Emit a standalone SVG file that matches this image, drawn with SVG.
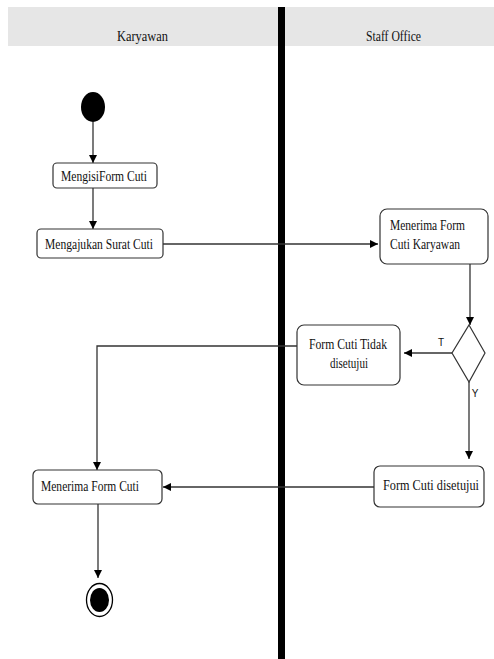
<svg xmlns="http://www.w3.org/2000/svg" width="494" height="659" viewBox="0 0 494 659">
  <style>
    .lane { fill: #e6e6e6; }
    .lbl { font-family: "Liberation Serif", "Times New Roman", serif; font-size: 14px; fill: #111; }
    .act { fill: #fff; stroke: #333; stroke-width: 1.2; }
    .flow { fill: none; stroke: #333; stroke-width: 1.3; }
    .guard { font-family: "Liberation Sans", Arial, sans-serif; font-size: 10px; fill: #111; }
  </style>
  <defs>
    <marker id="arrow" viewBox="0 0 10 10" refX="10" refY="5" markerWidth="8" markerHeight="8" markerUnits="userSpaceOnUse" orient="auto">
      <path d="M0,0 L10,5 L0,10 Z" fill="#000"/>
    </marker>
  </defs>

  <rect width="494" height="659" fill="#fff"/>

  <!-- swimlane headers -->
  <g id="lanes">
    <rect class="lane" x="8" y="7" width="270" height="39"/>
    <rect class="lane" x="285" y="7" width="209" height="39"/>
    <text class="lbl" x="142.5" y="41" text-anchor="middle" textLength="51" lengthAdjust="spacingAndGlyphs">Karyawan</text>
    <text class="lbl" x="393.5" y="41" text-anchor="middle" textLength="55" lengthAdjust="spacingAndGlyphs">Staff Office</text>
    <rect x="278" y="7" width="7" height="652" fill="#000"/>
  </g>

  <!-- connectors -->
  <g id="connectors">
    <path class="flow" d="M93,122 L93,163" marker-end="url(#arrow)"/>
    <path class="flow" d="M93,188 L93,229" marker-end="url(#arrow)"/>
    <path class="flow" d="M163,244 L378,244" marker-end="url(#arrow)"/>
    <path class="flow" d="M470,264 L470,325" marker-end="url(#arrow)"/>
    <path class="flow" d="M452,353 L404,353" marker-end="url(#arrow)"/>
    <path class="flow" d="M297,346 L97,346 L97,470" marker-end="url(#arrow)"/>
    <path class="flow" d="M469,382 L469,459" marker-end="url(#arrow)"/>
    <path class="flow" d="M374,487 L163,487" marker-end="url(#arrow)"/>
    <path class="flow" d="M98,504 L98,578" marker-end="url(#arrow)"/>
    <text class="guard" x="441" y="346" text-anchor="middle">T</text>
    <text class="guard" x="475" y="397" text-anchor="middle">Y</text>
  </g>

  <g id="start">
    <ellipse cx="93" cy="107" rx="12" ry="15" fill="#000"/>
  </g>

  <g id="isi-form">
    <rect class="act" x="53" y="163" width="104" height="25" rx="4"/>
    <text class="lbl" x="104" y="181" text-anchor="middle" textLength="86" lengthAdjust="spacingAndGlyphs">MengisiForm Cuti</text>
  </g>

  <g id="ajukan-surat">
    <rect class="act" x="37" y="229" width="126" height="29" rx="4"/>
    <text class="lbl" x="99" y="249" text-anchor="middle" textLength="108" lengthAdjust="spacingAndGlyphs">Mengajukan Surat Cuti</text>
  </g>

  <g id="terima-form-karyawan">
    <rect class="act" x="380" y="209" width="108" height="55" rx="7"/>
    <text class="lbl" x="390" y="230" textLength="75" lengthAdjust="spacingAndGlyphs">Menerima Form</text>
    <text class="lbl" x="390" y="249" textLength="70" lengthAdjust="spacingAndGlyphs">Cuti Karyawan</text>
  </g>

  <g id="keputusan">
    <path d="M469,325 L485,353 L469,382 L452,353 Z" fill="#fff" stroke="#333" stroke-width="1.2"/>
  </g>

  <g id="tidak-disetujui">
    <rect class="act" x="297" y="325" width="103" height="60" rx="7"/>
    <text class="lbl" x="348" y="349" text-anchor="middle" textLength="78" lengthAdjust="spacingAndGlyphs">Form Cuti Tidak</text>
    <text class="lbl" x="349" y="368" text-anchor="middle" textLength="38" lengthAdjust="spacingAndGlyphs">disetujui</text>
  </g>

  <g id="disetujui">
    <rect class="act" x="374" y="466" width="110" height="41" rx="6"/>
    <text class="lbl" x="431" y="490" text-anchor="middle" textLength="96" lengthAdjust="spacingAndGlyphs">Form Cuti disetujui</text>
  </g>

  <g id="terima-form-cuti">
    <rect class="act" x="33" y="470" width="129" height="34" rx="5"/>
    <text class="lbl" x="90" y="491" text-anchor="middle" textLength="98" lengthAdjust="spacingAndGlyphs">Menerima Form Cuti</text>
  </g>

  <g id="end">
    <ellipse cx="99.5" cy="600" rx="13" ry="16.5" fill="#fff" stroke="#000" stroke-width="1.3"/>
    <ellipse cx="99.5" cy="600" rx="9.5" ry="12" fill="#000"/>
  </g>
</svg>
